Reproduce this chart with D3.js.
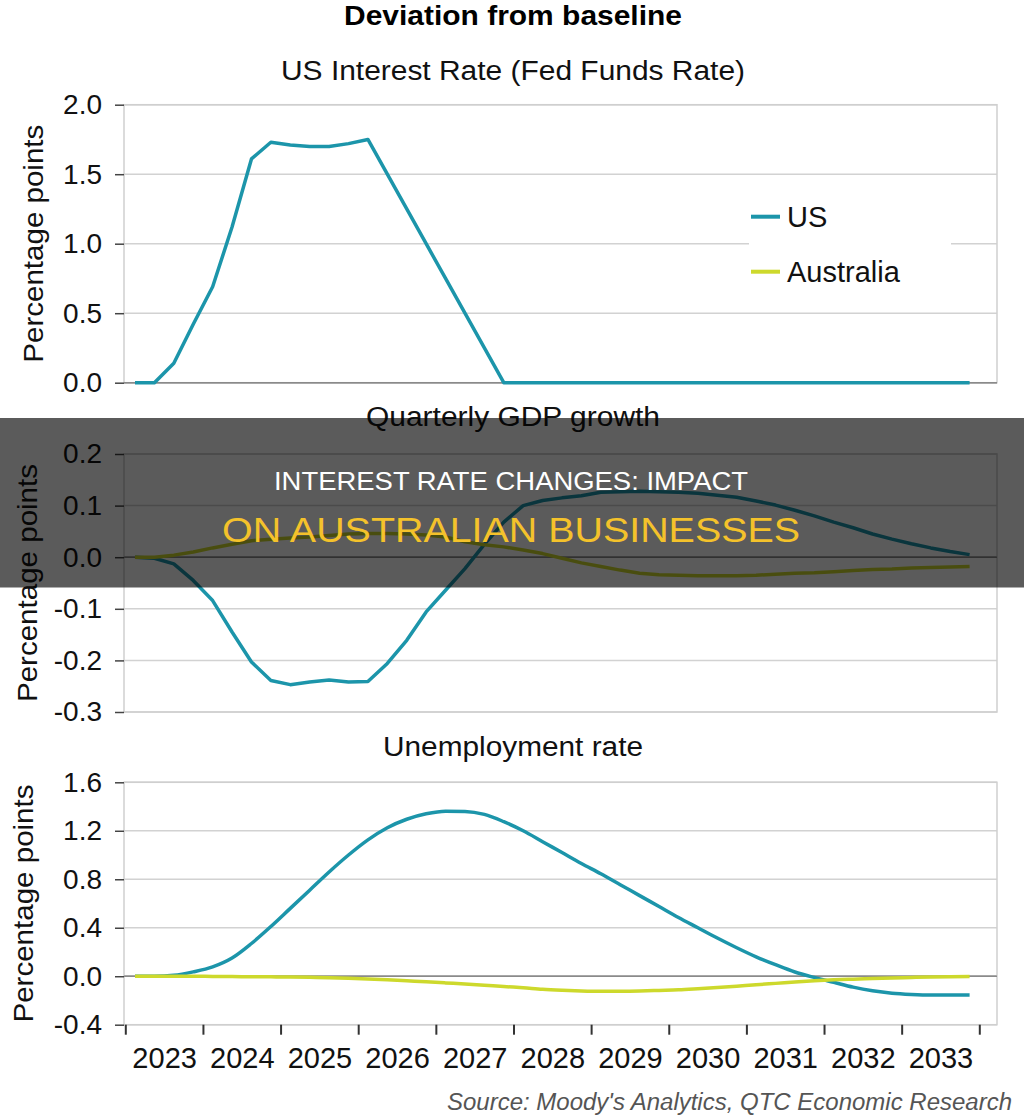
<!DOCTYPE html>
<html lang="en">
<head>
<meta charset="UTF-8">
<title>Deviation from baseline</title>
<script src="https://d3js.org/d3.v7.min.js"></script>
<style>
  body { margin: 0; background: #fff; }
  svg { display: block; font-family: "Liberation Sans", Arial, Helvetica, sans-serif; }
</style>
</head>
<body>
<svg width="1024" height="1120"></svg>
<script>
// quarterly data, 2023Q1 .. 2033Q4
const years = [2023, 2024, 2025, 2026, 2027, 2028, 2029, 2030, 2031, 2032, 2033];
const quarters = years.flatMap(y => [0.125, 0.375, 0.625, 0.875].map(f => y + f));

const usFedFunds = [
  0, 0, 0.14, 0.42, 0.69, 1.12, 1.61, 1.73, 1.71, 1.70, 1.70,
  1.72, 1.75, 1.50, 1.25, 1.00, 0.75, 0.50, 0.25, 0, 0, 0,
  0, 0, 0, 0, 0, 0, 0, 0, 0, 0, 0,
  0, 0, 0, 0, 0, 0, 0, 0, 0, 0, 0
];
const usGdp = [
  0, -0.002, -0.013, -0.045, -0.084, -0.145, -0.203, -0.239, -0.247, -0.242, -0.238,
  -0.242, -0.241, -0.206, -0.161, -0.106, -0.064, -0.022, 0.025, 0.068, 0.100, 0.110,
  0.115, 0.119, 0.126, 0.127, 0.128, 0.127, 0.126, 0.124, 0.120, 0.116, 0.109,
  0.101, 0.091, 0.080, 0.068, 0.057, 0.045, 0.035, 0.026, 0.018, 0.011, 0.005
];
const auGdp = [
  0, 0, 0.004, 0.010, 0.018, 0.025, 0.032, 0.035, 0.037, 0.039, 0.042,
  0.045, 0.046, 0.046, 0.045, 0.043, 0.039, 0.030, 0.024, 0.020, 0.014, 0.007,
  -0.002, -0.011, -0.018, -0.025, -0.031, -0.034, -0.035, -0.036, -0.036, -0.036, -0.035,
  -0.033, -0.031, -0.030, -0.028, -0.026, -0.024, -0.023, -0.021, -0.020, -0.019, -0.018
];
const usUnemp = [
  0, 0, 0.008, 0.036, 0.077, 0.15, 0.27, 0.41, 0.56, 0.71, 0.86,
  1.0, 1.125, 1.225, 1.295, 1.34, 1.362, 1.36, 1.335, 1.275, 1.20, 1.11,
  1.02, 0.93, 0.845, 0.755, 0.665, 0.575, 0.485, 0.40, 0.315, 0.235, 0.16,
  0.095, 0.035, -0.01, -0.05, -0.09, -0.12, -0.14, -0.15, -0.155, -0.155, -0.155
];
const auUnemp = [
  0, 0, 0, 0, -0.002, -0.003, -0.004, -0.005, -0.007, -0.009, -0.012,
  -0.017, -0.023, -0.030, -0.038, -0.046, -0.055, -0.064, -0.074, -0.085, -0.095, -0.107,
  -0.115, -0.121, -0.124, -0.124, -0.122, -0.117, -0.112, -0.103, -0.093, -0.082, -0.070,
  -0.059, -0.048, -0.038, -0.030, -0.024, -0.019, -0.014, -0.010, -0.006, -0.004, -0.003
];

const rateTicks = [0, 0.5, 1.0, 1.5, 2.0];
const gdpTicks = [-0.3, -0.2, -0.1, 0, 0.1, 0.2];
const unempTicks = [-0.4, 0, 0.4, 0.8, 1.2, 1.6];

const seriesNames = ["US", "Australia"];
const teal = "#1c95aa", lime = "#cdd92c";

const svg = d3.select("svg");
const left = 124, right = 997;

function fit(sel, w) {
  return sel.attr("textLength", w).attr("lengthAdjust", "spacingAndGlyphs");
}

const x = d3.scaleLinear()
  .domain([2023, 2034])
  .range([125.3, 979.3]);

// header
fit(svg.append("text")
  .attr("x", 513).attr("y", 25)
  .attr("text-anchor", "middle")
  .style("font-size", "27px").style("font-weight", "bold")
  .text("Deviation from baseline"), 338);

const panels = [
  { title: "US Interest Rate (Fed Funds Rate)", titleW: 464, titleY: 80, top: 104.7, bottom: 382.7,
    ticks: rateTicks, labelX: 43, curve: d3.curveLinear,
    series: [{ values: usFedFunds, color: teal }] },
  { title: "Quarterly GDP growth", titleW: 294, titleY: 426, top: 454, bottom: 712,
    ticks: gdpTicks, labelX: 37, curve: d3.curveLinear,
    series: [{ values: usGdp, color: teal }, { values: auGdp, color: lime }] },
  { title: "Unemployment rate", titleW: 260, titleY: 756, top: 782.3, bottom: 1024.7,
    ticks: unempTicks, labelX: 33, curve: d3.curveMonotoneX,
    series: [{ values: usUnemp, color: teal }, { values: auUnemp, color: lime }] }
];

panels.forEach(p => {
  const y = d3.scaleLinear()
    .domain(d3.extent(p.ticks))
    .range([p.bottom, p.top]);
  const g = svg.append("g");

  fit(g.append("text")
    .attr("x", 513).attr("y", p.titleY)
    .attr("text-anchor", "middle")
    .style("font-size", "27px").style("fill", "#111")
    .text(p.title), p.titleW);

  // grid
  g.selectAll(".grid")
    .data(p.ticks)
    .enter()
    .append("line")
    .attr("x1", left).attr("x2", right)
    .attr("y1", d => y(d)).attr("y2", d => y(d))
    .style("stroke", d => d === 0 ? "#8a8a8a" : "#d2d2d2")
    .style("stroke-width", 1.5);

  g.append("rect")
    .attr("x", left).attr("y", p.top)
    .attr("width", right - left).attr("height", p.bottom - p.top)
    .style("fill", "none").style("stroke", "#cfcfcf").style("stroke-width", 1.5);

  g.append("line")
    .attr("x1", left).attr("x2", right)
    .attr("y1", y(0)).attr("y2", y(0))
    .style("stroke", "#8a8a8a").style("stroke-width", 1.5);

  const ax = g.append("g")
    .attr("transform", `translate(${left},0)`)
    .call(d3.axisLeft(y).tickValues(p.ticks).tickSize(9).tickPadding(13)
      .tickFormat(d => d.toFixed(1)));
  ax.select(".domain").remove();
  ax.selectAll(".tick line").style("stroke", "#444").style("stroke-width", 1.5);
  ax.selectAll(".tick text")
    .style("font-size", "28px").style("fill", "#111")
    .style("font-family", "'Liberation Sans', Arial, sans-serif");

  fit(g.append("text")
    .attr("transform", `translate(${p.labelX},${(p.top + p.bottom) / 2}) rotate(-90)`)
    .attr("text-anchor", "middle")
    .style("font-size", "28px").style("fill", "#111")
    .text("Percentage points"), 238);

  const line = d3.line()
    .x((d, i) => x(quarters[i]))
    .y(d => y(d))
    .curve(p.curve);

  p.series.forEach(s => {
    g.append("path")
      .datum(s.values)
      .attr("d", line)
      .style("fill", "none")
      .style("stroke", s.color)
      .style("stroke-width", 3.5)
      .style("stroke-linejoin", "round");
  });
});

// x axis on the bottom panel: boundary ticks + centred year labels
const last = panels[2];
const xt = svg.append("g")
  .attr("transform", `translate(0,${last.bottom})`)
  .call(d3.axisBottom(x).tickValues(years.concat([2034])).tickSize(10).tickFormat(""));
xt.select(".domain").remove();
xt.selectAll(".tick line").style("stroke", "#333").style("stroke-width", 2);

const xl = svg.append("g")
  .attr("transform", `translate(0,${last.bottom})`)
  .call(d3.axisBottom(x).tickValues(years.map(v => v + 0.5)).tickSize(0).tickPadding(23)
    .tickFormat(d => String(Math.floor(d))));
xl.select(".domain").remove();
xl.selectAll(".tick text")
  .style("font-size", "29px").style("fill", "#111")
  .style("font-family", "'Liberation Sans', Arial, sans-serif");

// legend
const lg = svg.append("g");
lg.append("rect")
  .attr("x", 749).attr("y", 192).attr("width", 202).attr("height", 106)
  .style("fill", "#fff");
seriesNames.forEach((name, i) => {
  const cy = 216.7 + i * 55;
  lg.append("line")
    .attr("x1", 751).attr("x2", 780)
    .attr("y1", cy).attr("y2", cy)
    .style("stroke", i === 0 ? teal : lime).style("stroke-width", 4);
  lg.append("text")
    .attr("x", 787).attr("y", cy + 10)
    .style("font-size", "29px").style("fill", "#111")
    .text(name);
});

// source
fit(svg.append("text")
  .attr("x", 1012).attr("y", 1110)
  .attr("text-anchor", "end")
  .style("font-size", "23px").style("font-style", "italic").style("fill", "#555")
  .text("Source: Moody's Analytics, QTC Economic Research"), 565);

// headline banner across the middle
svg.append("rect")
  .attr("x", 0).attr("y", 418).attr("width", 1024).attr("height", 169.5)
  .style("fill", "rgba(0,0,0,0.645)");
fit(svg.append("text")
  .attr("x", 274).attr("y", 490)
  .style("font-size", "26px").style("fill", "#fff")
  .text("INTEREST RATE CHANGES: IMPACT"), 474);
fit(svg.append("text")
  .attr("x", 222).attr("y", 542)
  .style("font-size", "35px").style("fill", "#f4c22b")
  .text("ON AUSTRALIAN BUSINESSES"), 578);
</script>
</body>
</html>
